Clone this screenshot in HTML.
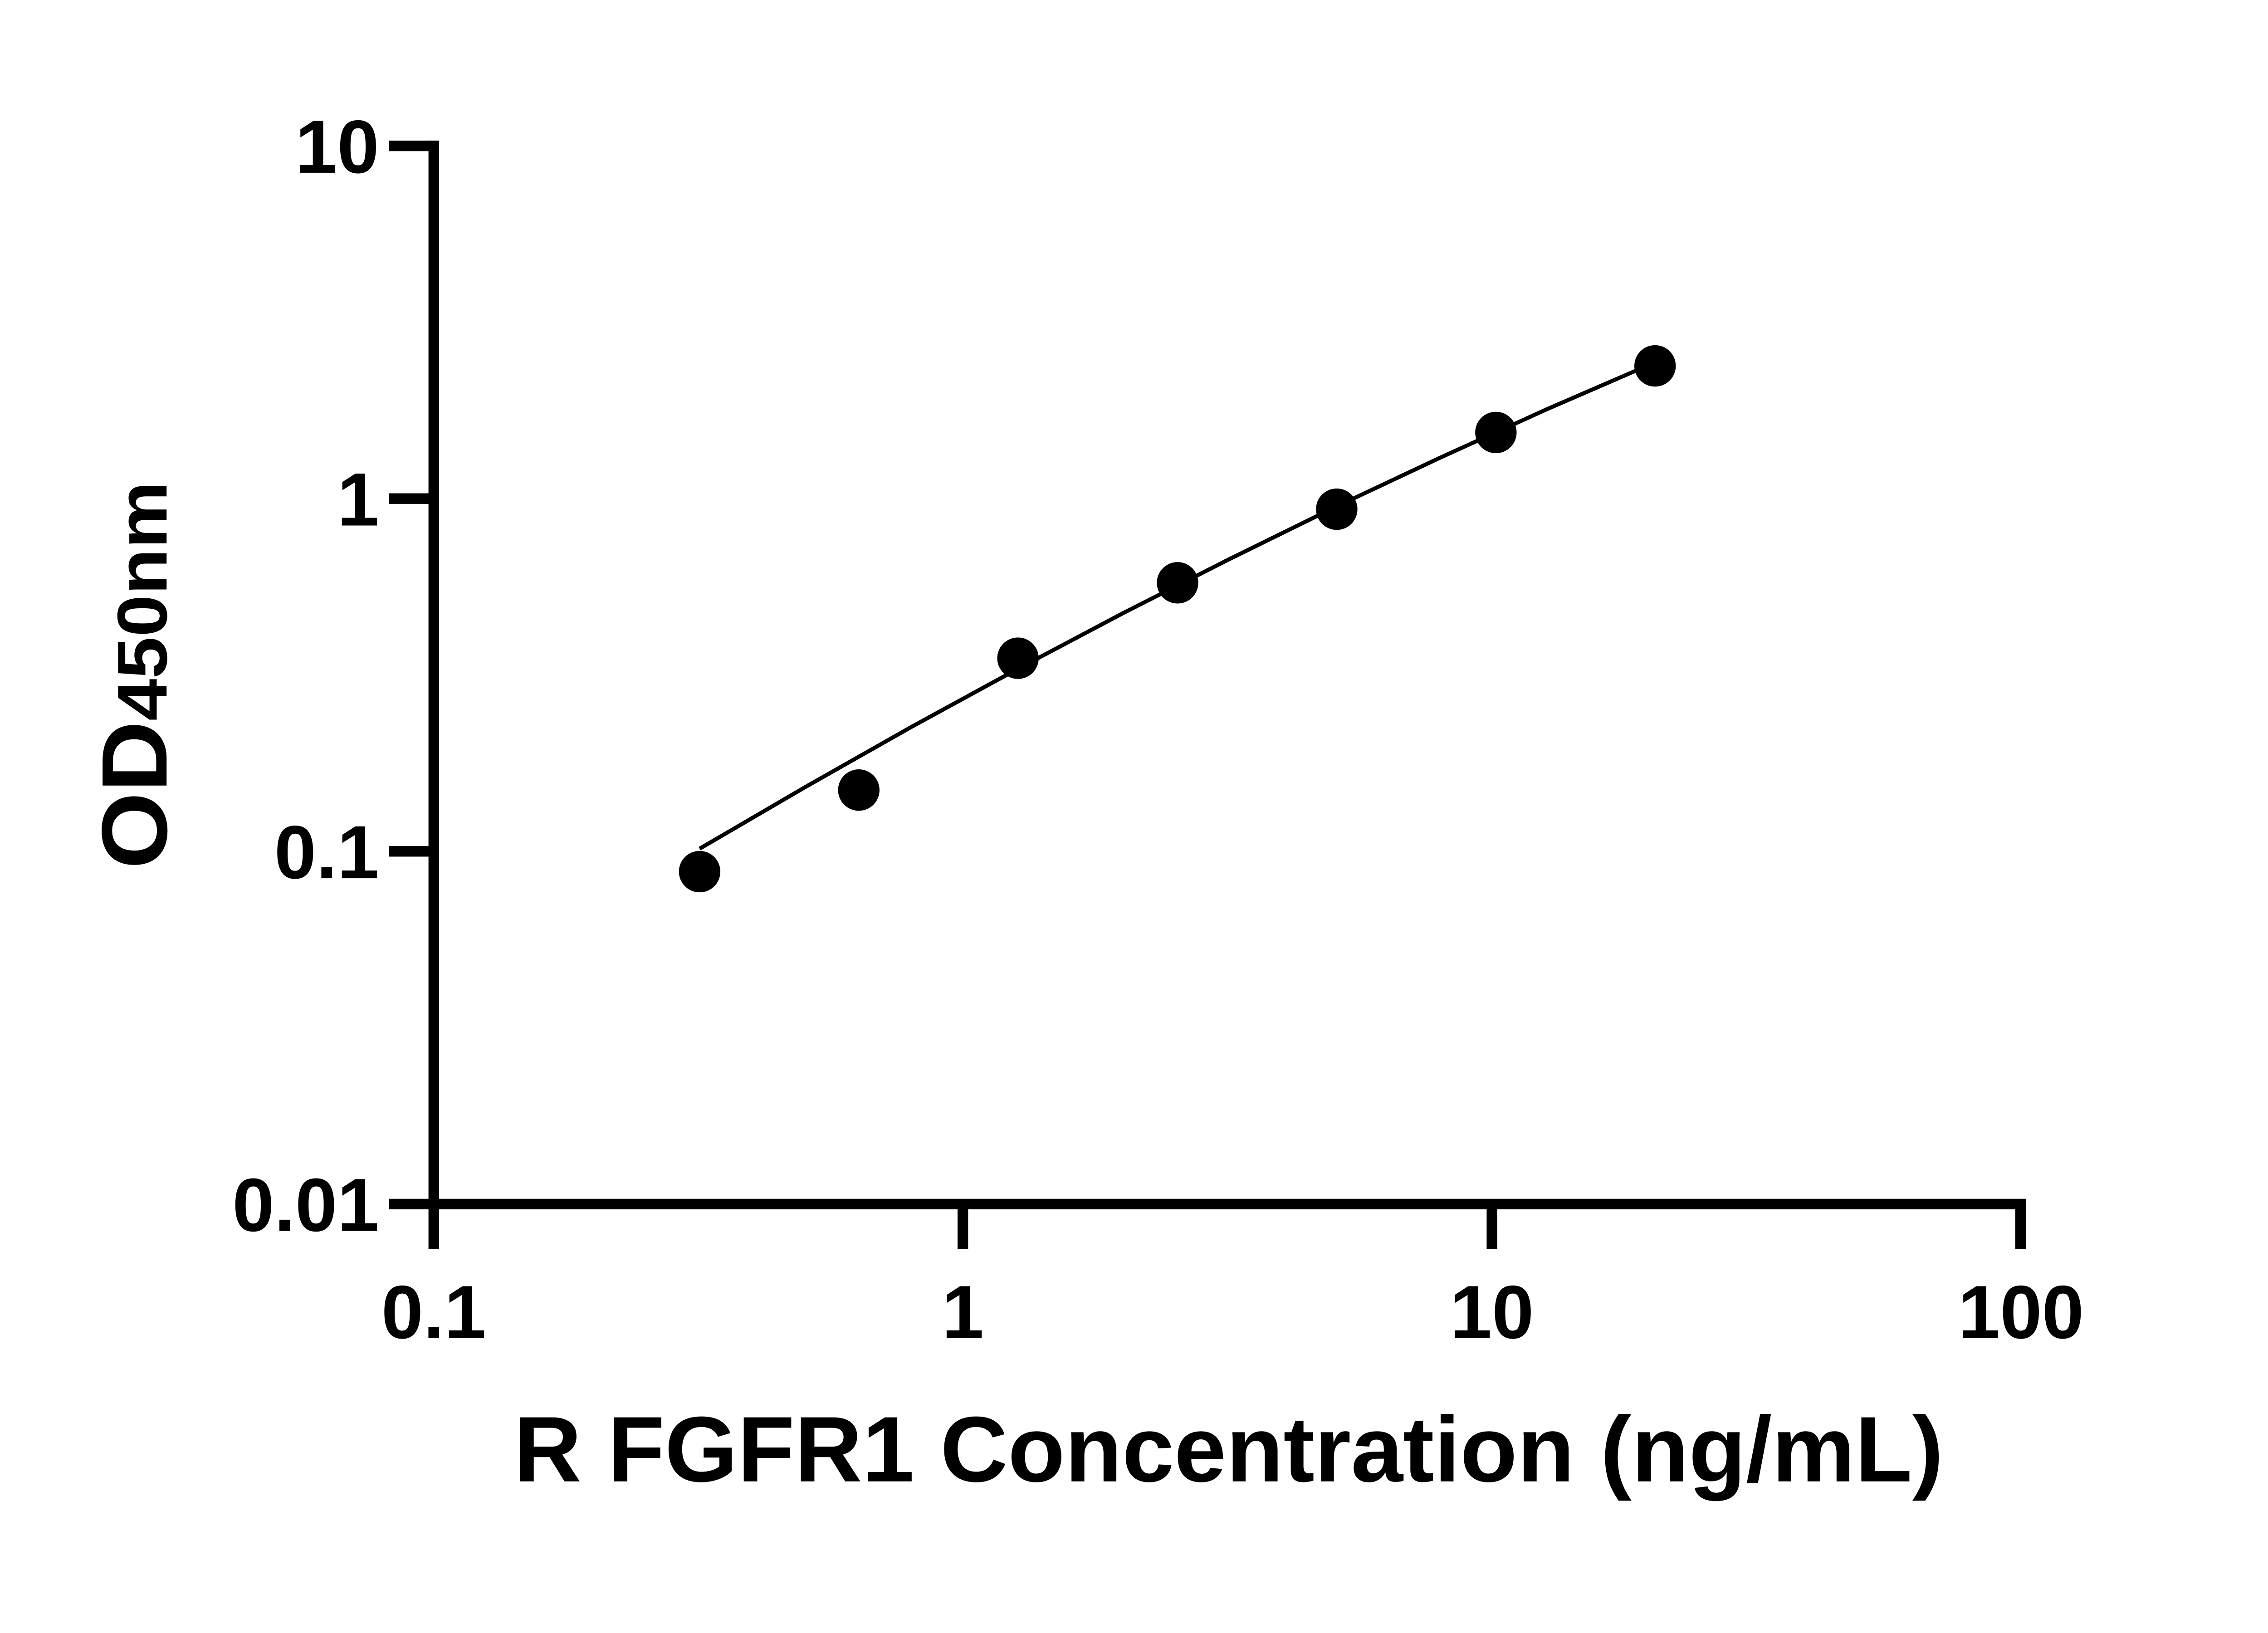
<!DOCTYPE html>
<html>
<head>
<meta charset="utf-8">
<style>
  html, body { margin: 0; padding: 0; background: #ffffff; }
  svg { display: block; }
  text { font-family: "Liberation Sans", Arial, sans-serif; font-weight: bold; fill: #000; }
</style>
</head>
<body>
<svg width="5142" height="3600" viewBox="0 0 5142 3600" xmlns="http://www.w3.org/2000/svg">
  <rect x="0" y="0" width="5142" height="3600" fill="#ffffff"/>
  <g transform="translate(-6,-5) scale(0.972)">

  <!-- Y axis -->
  <rect x="978" y="324" width="24" height="2514" fill="#000"/>
  <!-- X axis -->
  <rect x="888" y="2724" width="3713" height="24" fill="#000"/>

  <!-- Y ticks -->
  <rect x="888" y="324" width="100" height="24" fill="#000"/>
  <rect x="888" y="1124" width="100" height="24" fill="#000"/>
  <rect x="888" y="1924" width="100" height="24" fill="#000"/>

  <!-- X ticks -->
  <rect x="2178" y="2736" width="24" height="102" fill="#000"/>
  <rect x="3378" y="2736" width="24" height="102" fill="#000"/>
  <rect x="4577" y="2736" width="24" height="102" fill="#000"/>

  <!-- Y tick labels -->
  <text x="866" y="397" font-size="171" text-anchor="end">10</text>
  <text x="866" y="1197" font-size="171" text-anchor="end">1</text>
  <text x="866" y="1997" font-size="171" text-anchor="end">0.1</text>
  <text x="866" y="2797" font-size="171" text-anchor="end">0.01</text>

  <!-- X tick labels -->
  <text x="990" y="3040" font-size="171" text-anchor="middle">0.1</text>
  <text x="2190" y="3040" font-size="171" text-anchor="middle">1</text>
  <text x="3390" y="3040" font-size="171" text-anchor="middle">10</text>
  <text x="4590" y="3040" font-size="171" text-anchor="middle">100</text>

  <!-- X axis title -->
  <text x="1172" y="3365" font-size="211" textLength="3242" lengthAdjust="spacingAndGlyphs">R FGFR1 Concentration (ng/mL)</text>

  <!-- Y axis title -->
  <text transform="translate(384,1976) rotate(-90)" font-size="211" textLength="336" lengthAdjust="spacingAndGlyphs">OD</text>
  <text transform="translate(384,1640) rotate(-90)" font-size="160" textLength="543" lengthAdjust="spacingAndGlyphs">450nm</text>

  <g transform="translate(9,0)">
  <!-- Fit curve -->
  <polyline fill="none" stroke="#000" stroke-width="9" stroke-linejoin="round"
    points="1584,1930 1824,1790 2064,1654 2304,1523 2544,1396 2784,1274 3024,1156 3264,1043 3504,934 3751,827"/>

  <!-- Data points -->
  <circle cx="1584" cy="1982" r="47" fill="#000"/>
  <circle cx="1945" cy="1797" r="47" fill="#000"/>
  <circle cx="2306" cy="1498" r="47" fill="#000"/>
  <circle cx="2668" cy="1327" r="47" fill="#000"/>
  <circle cx="3029" cy="1160" r="47" fill="#000"/>
  <circle cx="3390" cy="986" r="47" fill="#000"/>
  <circle cx="3751" cy="835" r="47" fill="#000"/>
  </g>
  </g>
</svg>
</body>
</html>
